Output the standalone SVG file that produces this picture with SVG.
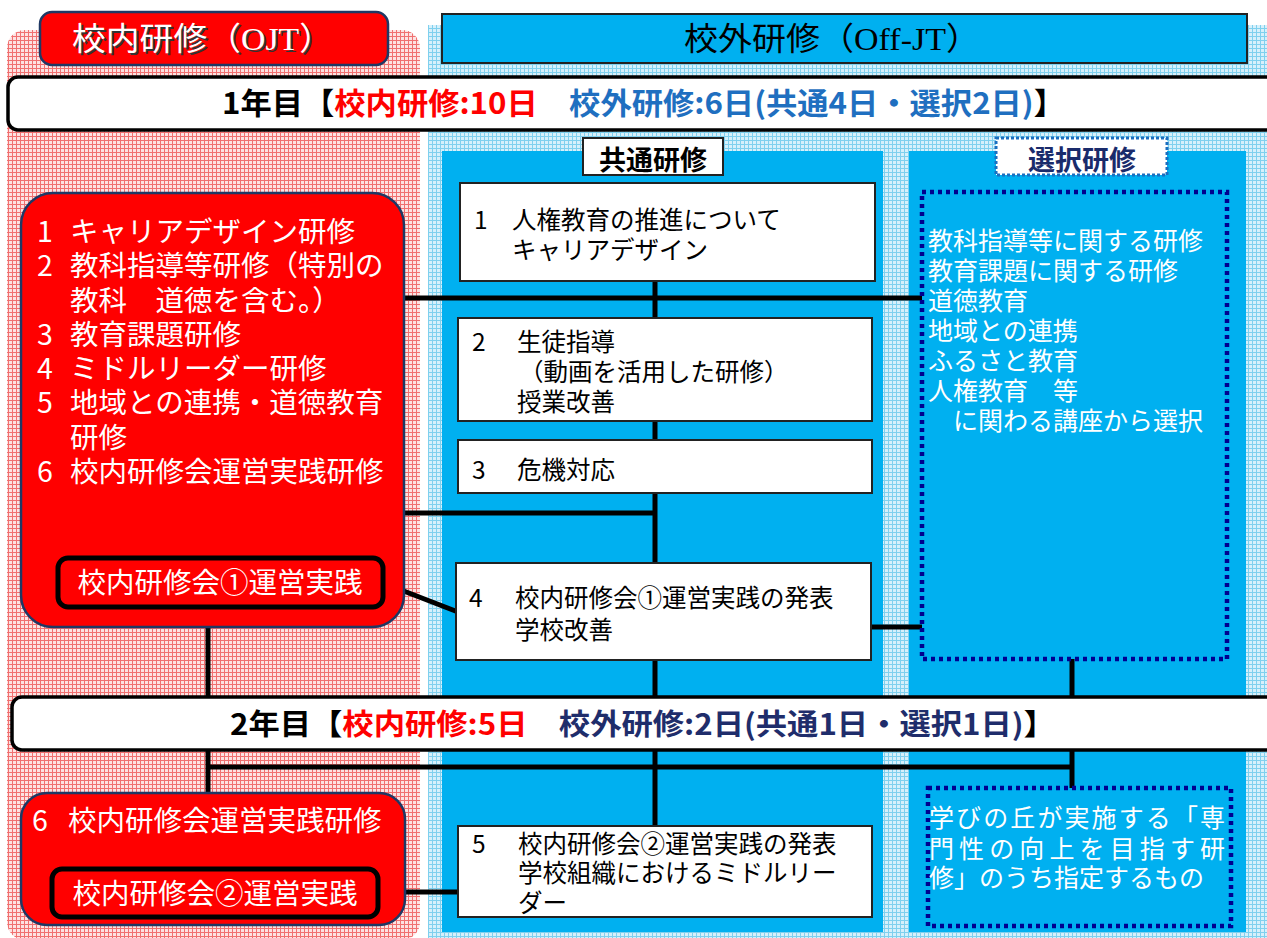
<svg xmlns="http://www.w3.org/2000/svg" width="1267" height="938" viewBox="0 0 1267 938">
<defs>
<pattern id="pinkPat" width="4" height="4" patternUnits="userSpaceOnUse">
<rect width="4" height="4" fill="#fde2e2"/>
<path d="M0 0.5H4M0.5 0V4" stroke="#f07070" stroke-width="1"/>
</pattern>
<pattern id="bluePat" width="4" height="4" patternUnits="userSpaceOnUse">
<rect width="4" height="4" fill="#d6f0fb"/>
<path d="M0 0.5H4M0.5 0V4" stroke="#7fd0ee" stroke-width="1"/>
</pattern>
<style>
.jp{font-family:"Noto Sans CJK JP","Liberation Sans",sans-serif;}
.serif{font-family:"Liberation Serif","Noto Sans CJK JP",serif;}
.wbox{fill:#fff;stroke:#222;stroke-width:2;}
.redbox{fill:#ff0000;stroke:#1f3864;stroke-width:2.5;}
.smallred{fill:#ff0000;stroke:#000;stroke-width:5;}
.panel{fill:#00b0f0;}
.sel{fill:#00b0f0;stroke:#00008f;stroke-width:4.5;stroke-dasharray:4 4;}
.wt{fill:#fff;font-size:28.5px;}
.bt{fill:#000;font-size:24.5px;}
.st{fill:#fff;font-size:25px;}
.bar{fill:#fff;stroke:#000;stroke-width:3.5;}
.conn line,.conn path{stroke:#000;stroke-width:5;fill:none;}
</style>
</defs>

<!-- backgrounds -->
<rect x="7" y="30" width="413" height="910" rx="18" fill="url(#pinkPat)"/>
<rect x="428" y="25" width="845" height="915" fill="url(#bluePat)"/>
<rect x="442" y="151" width="441" height="781" class="panel"/>
<rect x="909" y="151" width="337" height="781" class="panel"/>

<!-- headers -->
<g id="header-ojt">
<rect x="40" y="12" width="348" height="53" rx="12" fill="#ff0000" stroke="#1f3864" stroke-width="2.5"/>
<text class="serif" x="74" y="52" font-size="32" fill="#333" textLength="261" lengthAdjust="spacingAndGlyphs">校内研修（OJT）</text>
<text class="serif" x="72" y="50" font-size="32" fill="#fff" textLength="261" lengthAdjust="spacingAndGlyphs">校内研修（OJT）</text>
</g>
<g id="header-offjt">
<rect x="442" y="14" width="805" height="49" fill="#00b0f0" stroke="#222" stroke-width="2"/>
<text class="serif" x="684" y="50" font-size="32" fill="#000" textLength="296" lengthAdjust="spacingAndGlyphs">校外研修（Off-JT）</text>
</g>

<!-- connectors -->
<g id="connectors" class="conn">
<line x1="655" y1="281" x2="655" y2="697"/>
<line x1="655" y1="750" x2="655" y2="826"/>
<line x1="404" y1="298" x2="924" y2="298" stroke-linecap="round"/>
<line x1="404" y1="513" x2="655" y2="513"/>
<line x1="383" y1="583" x2="458" y2="612"/>
<line x1="871" y1="627" x2="929" y2="627" stroke-linecap="round"/>
<line x1="208" y1="627" x2="208" y2="697"/>
<line x1="1072" y1="659" x2="1072" y2="697"/>
<line x1="208" y1="750" x2="208" y2="793"/>
<line x1="1072" y1="750" x2="1072" y2="788"/>
<line x1="206" y1="767" x2="1074" y2="767"/>
<line x1="378" y1="892" x2="457" y2="892" stroke-linecap="round"/>
</g>

<!-- year bars -->
<g id="year1">
<rect x="8" y="77" width="1275" height="53" rx="10" class="bar"/>
<text class="jp" x="222" y="114" font-size="30" font-weight="bold" textLength="843" lengthAdjust="spacingAndGlyphs"><tspan fill="#000">1年目【</tspan><tspan fill="#ff0000">校内研修:10日</tspan><tspan fill="#1f6fc0">　校外研修:6日(共通4日・選択2日)</tspan><tspan fill="#000">】</tspan></text>
</g>
<g id="year2">
<rect x="12" y="697" width="1275" height="53" rx="10" class="bar"/>
<text class="jp" x="230" y="735" font-size="29" font-weight="bold" textLength="825" lengthAdjust="spacingAndGlyphs"><tspan fill="#000">2年目【</tspan><tspan fill="#ff0000">校内研修:5日</tspan><tspan fill="#1f2d6b">　校外研修:2日(共通1日・選択1日)</tspan><tspan fill="#000">】</tspan></text>
</g>

<!-- labels -->
<g id="label-common">
<rect x="583" y="138" width="140" height="37" class="wbox"/>
<text class="jp" x="653" y="170" font-size="27" font-weight="bold" text-anchor="middle" fill="#000">共通研修</text>
</g>
<g id="label-select">
<rect x="996" y="138" width="171" height="37" fill="#fff" stroke="#1a6fc0" stroke-width="3" stroke-dasharray="3 2"/>
<text class="jp" x="1082" y="170" font-size="27" font-weight="bold" text-anchor="middle" fill="#1a2b6b">選択研修</text>
</g>

<!-- OJT year 1 -->
<g id="ojt1">
<rect x="21" y="193" width="383" height="434" rx="32" class="redbox"/>
<text class="jp wt"><tspan x="37" y="242">1</tspan><tspan x="70" y="242">キャリアデザイン研修</tspan></text>
<text class="jp wt"><tspan x="37" y="276">2</tspan><tspan x="70" y="276">教科指導等研修（特別の</tspan></text>
<text class="jp wt" x="70" y="311">教科　道徳を含む。）</text>
<text class="jp wt"><tspan x="37" y="345">3</tspan><tspan x="70" y="345">教育課題研修</tspan></text>
<text class="jp wt"><tspan x="37" y="379">4</tspan><tspan x="70" y="379">ミドルリーダー研修</tspan></text>
<text class="jp wt"><tspan x="37" y="413">5</tspan><tspan x="70" y="413">地域との連携・道徳教育</tspan></text>
<text class="jp wt" x="70" y="448">研修</text>
<text class="jp wt"><tspan x="37" y="482">6</tspan><tspan x="70" y="482">校内研修会運営実践研修</tspan></text>
</g>
<g id="ojt1-practice">
<rect x="58" y="558" width="325" height="49" rx="10" class="smallred"/>
<text class="jp wt" x="220" y="593" text-anchor="middle">校内研修会①運営実践</text>
</g>

<!-- OJT year 2 -->
<g id="ojt2">
<rect x="21" y="793" width="384" height="132" rx="26" class="redbox"/>
<text class="jp wt"><tspan x="32" y="831">6</tspan><tspan x="68" y="831">校内研修会運営実践研修</tspan></text>
</g>
<g id="ojt2-practice">
<rect x="52" y="869" width="326" height="48" rx="10" class="smallred"/>
<text class="jp wt" x="215" y="904" text-anchor="middle">校内研修会②運営実践</text>
</g>

<!-- common trainings -->
<g id="common1">
<rect x="460" y="183" width="415" height="98" class="wbox"/>
<text class="jp bt"><tspan x="474" y="229">1</tspan><tspan x="512" y="229">人権教育の推進について</tspan><tspan x="512" y="259">キャリアデザイン</tspan></text>
</g>
<g id="common2">
<rect x="458" y="318" width="414" height="103" class="wbox"/>
<text class="jp bt"><tspan x="472" y="351">2</tspan><tspan x="517" y="351">生徒指導</tspan><tspan x="519" y="381">（動画を活用した研修）</tspan><tspan x="517" y="411">授業改善</tspan></text>
</g>
<g id="common3">
<rect x="458" y="440" width="414" height="53" class="wbox"/>
<text class="jp bt"><tspan x="472" y="479">3</tspan><tspan x="517" y="479">危機対応</tspan></text>
</g>
<g id="common4">
<rect x="456" y="563" width="415" height="97" class="wbox"/>
<text class="jp bt"><tspan x="469" y="607">4</tspan><tspan x="515" y="607">校内研修会①運営実践の発表</tspan><tspan x="515" y="639">学校改善</tspan></text>
</g>
<g id="common5">
<rect x="458" y="826" width="414" height="91" class="wbox"/>
<text class="jp bt"><tspan x="472" y="853">5</tspan><tspan x="518" y="853">校内研修会②運営実践の発表</tspan><tspan x="518" y="882">学校組織におけるミドルリー</tspan><tspan x="518" y="912">ダー</tspan></text>
</g>

<!-- selected trainings -->
<g id="select1">
<rect x="922" y="192" width="305" height="467" class="sel"/>
<text class="jp st">
<tspan x="928" y="249.5">教科指導等に関する研修</tspan>
<tspan x="928" y="279.5">教育課題に関する研修</tspan>
<tspan x="928" y="309.5">道徳教育</tspan>
<tspan x="928" y="339.5">地域との連携</tspan>
<tspan x="928" y="369.5">ふるさと教育</tspan>
<tspan x="928" y="399.5">人権教育　等</tspan>
<tspan x="953" y="429.5">に関わる講座から選択</tspan>
</text>
</g>
<g id="select2">
<rect x="928" y="788" width="303" height="138" class="sel"/>
<text class="jp st" x="929" y="826.5" textLength="296" lengthAdjust="spacing">学びの丘が実施する「専</text>
<text class="jp st" x="929" y="857.5" textLength="296" lengthAdjust="spacing">門性の向上を目指す研</text>
<text class="jp st" x="929" y="887">修」のうち指定するもの</text>
</g>
</svg>
